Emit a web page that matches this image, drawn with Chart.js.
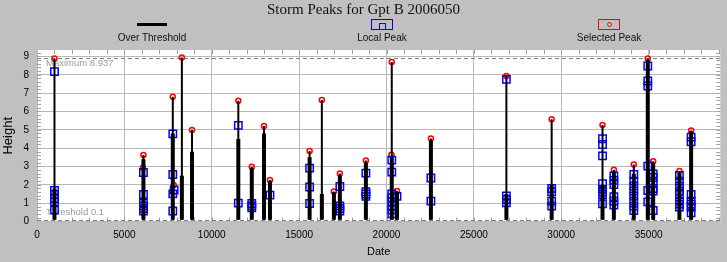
<!DOCTYPE html>
<html>
<head>
<meta charset="utf-8"/>
<style>
  html,body{margin:0;padding:0;background:#C0C0C0;}
  #wrap{position:relative;width:727px;height:262px;overflow:hidden;}
  canvas{position:absolute;left:0;top:0;}
  .title{position:absolute;left:0;width:727px;top:1px;text-align:center;
    font-family:"Liberation Serif",serif;font-size:15px;color:#111;}
  .leg{position:absolute;top:16px;width:140px;text-align:center;
    font-family:"Liberation Sans",sans-serif;font-size:10px;color:#111;}
  .sym{height:16px;position:relative;}
  .line{position:absolute;left:55px;top:7px;width:30px;height:3px;background:#000;}
  .box{position:absolute;left:59px;top:3px;width:20px;height:9px;border:1.5px solid;}
  .inner{position:absolute;left:7px;top:3px;width:5px;height:6px;border:1.5px solid #00f;border-bottom:none;}
  .dot{position:absolute;left:8px;top:2px;width:3px;height:3px;border:1.5px solid #f00;border-radius:50%;}
</style>
</head>
<body>
<div id="wrap">
  <canvas id="c" width="727" height="262"></canvas>
  <div class="title">Storm Peaks for Gpt B 2006050</div>
  <div class="leg" style="left:82px"><div class="sym"><div class="line"></div></div>Over Threshold</div>
  <div class="leg" style="left:312px"><div class="sym"><div class="box" style="border-color:#00f"><div class="inner"></div></div></div>Local Peak</div>
  <div class="leg" style="left:539px"><div class="sym"><div class="box" style="border-color:#f00"><div class="dot"></div></div></div>Selected Peak</div>
</div>
<script src="https://cdn.jsdelivr.net/npm/chart.js@4.4.0/dist/chart.umd.min.js"></script>
<script>
const THRESHOLD = 0.1;
const MAXIMUM   = 8.937;

// storm columns (date, top of column, top of dense part)
const stormDates = [1000, 6090, 7770, 8290, 8870, 11520, 12290, 12990, 13330, 15600, 16300, 16990, 17330,
                    18820, 20300, 20600, 22540, 26860, 29450, 32360, 33010, 34150, 34950, 35260, 36760, 37430];
const stormTops  = [8.88, 3.62, 6.80, 8.937, 4.99, 6.58, 2.98, 5.20, 2.26, 3.84, 6.62, 1.64, 2.62,
                    3.33, 8.70, 1.66, 4.53, 7.93, 5.57, 5.26, 2.82, 3.11, 8.88, 3.29, 2.75, 4.96];
const stormBody  = [1.8, 3.4, 4.8, 2.5, 3.8, 4.5, 2.9, 4.8, 2.2, 3.5, 1.5, 1.6, 2.5,
                    3.2, 3.5, 1.6, 4.4, 1.5, 2.0, 2.0, 2.7, 2.6, 8.8, 3.2, 2.6, 4.9];

// selected peaks that are not the column top
const extraSelDates   = [6060, 7830, 20280];
const extraSelHeights = [2.93, 1.98, 3.64];

// local peaks
const localDates = [
  1000,1000,1000,1000,1000,1000,
  6090,6090,6090,6090,6090,6090,
  7770,7770,7850,7770,7770,
  11520,11520,
  12290,12290,12290,
  13330,
  15600,15600,15600,
  17330,17330,17330,17330,
  18820,18820,18820,18820,
  20300,20300,20300,20300,20300,20300,20300,20300,
  20600,
  22540,22540,
  26860,26860,26860,26860,
  29450,29450,29450,29450,
  32360,32360,32360,32360,32360,32360,32360,32360,
  33010,33010,33010,33010,33010,33010,
  34150,34150,34150,34150,34150,34150,34150,34150,
  34950,34950,34950,34950,34950,34950,
  35260,35260,35260,35260,35260,35260,
  36760,36760,36760,36760,36760,36760,36760,36760,
  37430,37430,37430,37430,37430,37430,37430
];
const localHeights = [
  8.17,1.69,1.47,1.25,1.07,0.62,
  2.67,1.47,1.0,0.85,0.7,0.57,
  4.78,2.56,1.72,1.51,0.57,
  5.24,1.0,
  0.98,0.85,0.75,
  1.44,
  2.91,1.88,0.98,
  1.91,0.85,0.7,0.57,
  2.64,1.62,1.5,1.37,
  3.35,2.69,1.5,1.3,1.08,0.86,0.64,0.42,
  1.37,
  2.37,1.11,
  7.75,1.39,1.2,1.02,
  1.8,1.62,1.11,0.84,
  4.51,4.2,3.58,2.06,1.75,1.6,1.47,0.97,
  2.49,2.24,2.02,1.36,1.11,0.89,
  2.56,2.2,1.93,1.66,1.39,1.11,0.84,0.6,
  8.48,7.66,7.39,3.02,1.69,1.07,
  2.6,2.4,2.11,1.8,1.66,0.6,
  2.51,2.2,1.93,1.65,1.47,1.11,0.95,0.79,
  4.6,4.35,1.47,1.11,0.95,0.79,0.47
];

const xTicks = [0, 5000, 10000, 15000, 20000, 25000, 30000, 35000];
const yTicks = [0, 1, 2, 3, 4, 5, 6, 7, 8, 9];

function columns(tops) {
  const pts = [];
  stormDates.forEach((d, i) => {
    pts.push({x: d, y: THRESHOLD}, {x: d, y: tops[i]}, {x: d, y: null});
  });
  return pts;
}
const selected = stormDates.map((d, i) => ({x: d, y: stormTops[i]}))
  .concat(extraSelDates.map((d, i) => ({x: d, y: extraSelHeights[i]})));
const locals = localDates.map((d, i) => ({x: d, y: localHeights[i]}));

const bgPlugin = {
  id: "bg",
  beforeDraw(chart) {
    const {ctx, chartArea: a} = chart;
    ctx.save();
    ctx.fillStyle = "#fff";
    ctx.fillRect(a.left, a.top, a.right - a.left, a.bottom - a.top);
    ctx.restore();
  },
  beforeDatasetsDraw(chart) {
    const {ctx, chartArea: a, scales: {x, y}} = chart;
    ctx.save();
    // minor ticks
    ctx.strokeStyle = "#a0a0a0"; ctx.lineWidth = 1;
    ctx.beginPath();
    for (let v = 1000; v < x.max; v += 1000) {
      const px = Math.round(x.getPixelForValue(v)) + 0.5;
      ctx.moveTo(px, a.top); ctx.lineTo(px, a.top + 4);
      ctx.moveTo(px, a.bottom); ctx.lineTo(px, a.bottom - 4);
    }
    for (let v = 0.2; v < y.max; v += 0.2) {
      const py = Math.round(y.getPixelForValue(v)) + 0.5;
      ctx.moveTo(a.left, py); ctx.lineTo(a.left + 4, py);
      ctx.moveTo(a.right, py); ctx.lineTo(a.right - 4, py);
    }
    ctx.stroke();
    // max / threshold lines
    ctx.strokeStyle = "#808080"; ctx.setLineDash([4, 3]);
    [MAXIMUM, THRESHOLD].forEach(v => {
      const py = Math.round(y.getPixelForValue(v)) + 0.5;
      ctx.beginPath(); ctx.moveTo(a.left, py); ctx.lineTo(a.right, py); ctx.stroke();
    });
    ctx.setLineDash([]);
    ctx.fillStyle = "#a09a92";
    ctx.font = '9.5px "Liberation Sans", sans-serif';
    ctx.textBaseline = "top";
    ctx.fillText("Maximum " + MAXIMUM, a.left + 9, y.getPixelForValue(MAXIMUM) + 1);
    ctx.textBaseline = "bottom";
    ctx.fillText("Threshold " + THRESHOLD, a.left + 9, y.getPixelForValue(THRESHOLD) - 3);
    ctx.restore();
  }
};

const font = {family: '"Liberation Sans", sans-serif', size: 10};

new Chart(document.getElementById("c"), {
  type: "scatter",
  data: {
    datasets: [
      {label: "Over Threshold", data: columns(stormTops), showLine: true, spanGaps: false,
       borderColor: "#000", borderWidth: 2, pointRadius: 0},
      {label: "body", data: columns(stormBody), showLine: true, spanGaps: false,
       borderColor: "#000", borderWidth: 4, pointRadius: 0},
      {label: "Local Peak", data: locals, pointStyle: "rect", pointRadius: 5.2,
       borderColor: "#0000ff", borderWidth: 1.5, backgroundColor: "rgba(0,0,0,0)"},
      {label: "Selected Peak", data: selected, pointStyle: "circle", pointRadius: 2.5,
       borderColor: "#ff0000", borderWidth: 1.5, backgroundColor: "rgba(0,0,0,0)"}
    ]
  },
  options: {
    responsive: false,
    animation: false,
    layout: {padding: {top: 50, right: 6, left: 0, bottom: 0}},
    plugins: {legend: {display: false}, tooltip: {enabled: false}, title: {display: false}},
    scales: {
      x: {
        type: "linear", min: 0, max: 39100,
        afterFit: s => { s.height = 40.5; },
        afterBuildTicks: s => { s.ticks = xTicks.map(v => ({value: v})); },
        ticks: {font, color: "#000", padding: 8, maxRotation: 0, callback: v => String(v)},
        grid: {color: "#b8b8b8", lineWidth: 1, drawTicks: false},
        border: {display: false},
        title: {display: true, text: "Date", font: {family: font.family, size: 11}, color: "#000", padding: {top: 0, bottom: 3}}
      },
      y: {
        min: 0, max: 9.35,
        afterFit: s => { s.width = 37; },
        afterBuildTicks: s => { s.ticks = yTicks.map(v => ({value: v})); },
        ticks: {font, color: "#000", padding: 8, callback: v => String(v)},
        grid: {color: "#b8b8b8", lineWidth: 1, drawTicks: false},
        border: {display: false},
        title: {display: true, text: "Height", font: {family: font.family, size: 13}, color: "#000", padding: {top: 1, bottom: 0}}
      }
    }
  },
  plugins: [bgPlugin]
});
</script>
</body>
</html>
